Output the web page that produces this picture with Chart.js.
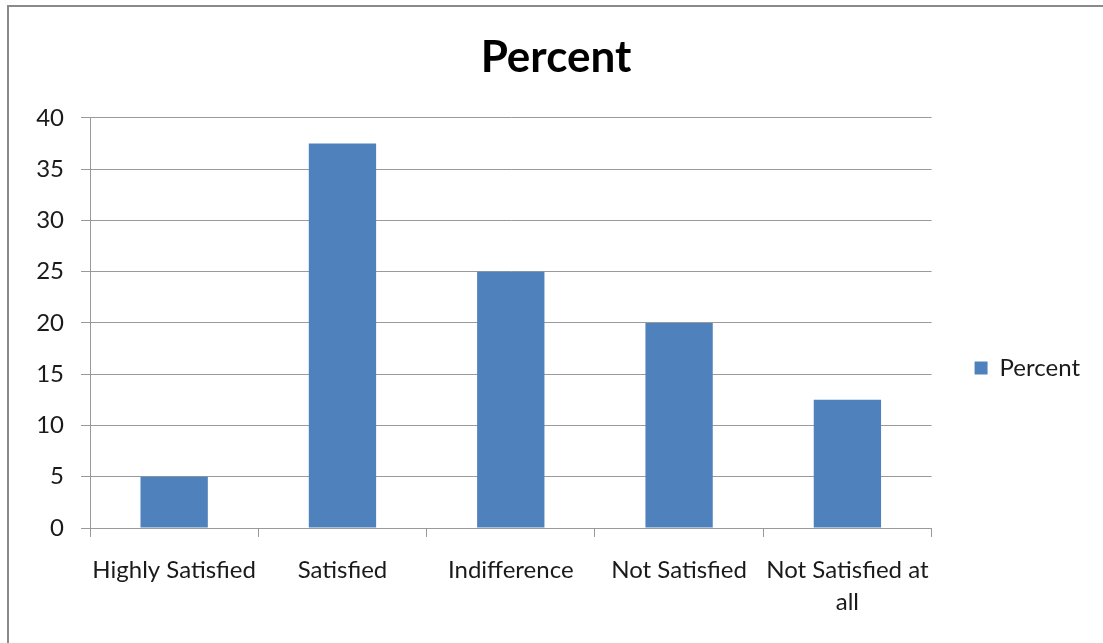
<!DOCTYPE html>
<html>
<head>
<meta charset="utf-8">
<script src="https://cdn.jsdelivr.net/npm/chart.js@4.4.1/dist/chart.umd.min.js"></script>
<style>
  html, body { margin: 0; padding: 0; background: #ffffff; }
  #frame {
    position: absolute; left: 7px; top: 5px;
    width: 1096px; height: 638px;
    border-left: 2px solid #8a8a8a; border-top: 2px solid #8a8a8a;
    background: #ffffff;
  }
  #chart { display: block; }
</style>
</head>
<body>
<div id="frame"><canvas id="chart" width="1094" height="636"></canvas></div>
<script>
// Satisfaction survey: share of respondents per answer
const categories = ['Highly Satisfied', 'Satisfied', 'Indifference', 'Not Satisfied', ['Not Satisfied at', 'all']];
const percentValues = [5, 37.5, 25, 20, 12.5];
const yTicks = { min: 0, max: 40, step: 5 };
const seriesName = 'Percent';

const FONT = 'Lato, Calibri, Carlito, sans-serif';
const GRID = '#9a9a9a';
const BAR = '#4f81bd';
const TEXT = '#1a1a1a';
const RIGHT_PAD = 13;

// Centre the title across the whole canvas, ignoring the right padding
const fullWidthTitle = {
  id: 'fullWidthTitle',
  afterLayout(chart) {
    if (chart.titleBlock) chart.titleBlock.right += RIGHT_PAD;
  }
};

new Chart(document.getElementById('chart'), {
  type: 'bar',
  data: {
    labels: categories,
    datasets: [{
      label: seriesName,
      data: percentValues,
      backgroundColor: BAR,
      borderWidth: 0,
      barPercentage: 0.4,
      categoryPercentage: 1.0
    }]
  },
  plugins: [fullWidthTitle],
  options: {
    responsive: false,
    animation: false,
    layout: { padding: { left: 0, top: 0, right: RIGHT_PAD, bottom: 24 } },
    plugins: {
      title: {
        display: true,
        text: seriesName,
        color: '#000000',
        font: { family: FONT, size: 44, weight: 'bold', lineHeight: 1.2 },
        padding: { top: 24, bottom: 34 }
      },
      legend: {
        position: 'right',
        align: 'center',
        // blank spacer title keeps the legend entry level with the plot's middle
        title: {
          display: true,
          text: ' ',
          font: { family: FONT, size: 10, lineHeight: 1 },
          padding: { top: 100, bottom: 0 }
        },
        labels: {
          boxWidth: 13,
          boxHeight: 13,
          padding: 43,
          color: TEXT,
          font: { family: FONT, size: 24 }
        }
      },
      tooltip: { enabled: false }
    },
    scales: {
      x: {
        offset: true,
        grid: {
          offset: true,
          drawOnChartArea: false,
          drawTicks: true,
          tickLength: 9,
          color: GRID
        },
        border: { color: GRID, width: 1 },
        ticks: {
          autoSkip: false,
          maxRotation: 0,
          minRotation: 0,
          padding: 18,
          color: TEXT,
          font: { family: FONT, size: 24, lineHeight: 1.3 }
        },
        afterFit(scale) { scale.height = 91; }
      },
      y: {
        min: yTicks.min,
        max: yTicks.max,
        grid: { color: GRID, tickLength: 9, drawTicks: true },
        border: { color: GRID, width: 1 },
        ticks: {
          stepSize: yTicks.step,
          padding: 17,
          color: TEXT,
          font: { family: FONT, size: 24 }
        },
        afterFit(scale) { scale.width = 81; }
      }
    }
  }
});
</script>
</body>
</html>
